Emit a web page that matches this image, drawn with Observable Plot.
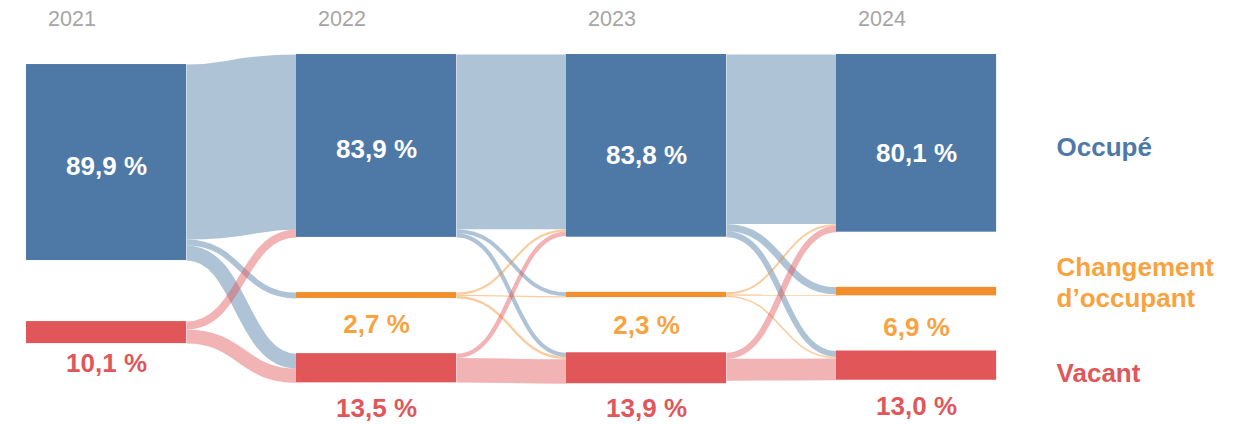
<!DOCTYPE html>
<html>
<head>
<meta charset="utf-8">
<script src="https://cdn.jsdelivr.net/npm/d3@7"></script>
<script src="https://cdn.jsdelivr.net/npm/@observablehq/plot@0.6"></script>
<style>
  body { margin: 0; background: #ffffff; }
  #chart svg { display: block; }
</style>
</head>
<body>
<div id="chart"></div>
<script>
// ---------- DATA ----------
const years = ["2021", "2022", "2023", "2024"];
const statuses = ["Occupé", "Changement", "Vacant"];
const legendLabels = ["Occupé", "Changement\nd’occupant", "Vacant"];

// share of dwellings per status and year (%)
const occupe     = [89.9, 83.9, 83.8, 80.1];
const changement = [null, 2.7, 2.3, 6.9];
const vacant     = [10.1, 13.5, 13.9, 13.0];

// flows between consecutive years: [from, to, share %]
const flows2021to2022 = [
  ["Occupé", "Occupé", 80.3], ["Occupé", "Changement", 2.7], ["Occupé", "Vacant", 6.9],
  ["Vacant", "Occupé", 3.6], ["Vacant", "Vacant", 6.5]
];
const flows2022to2023 = [
  ["Occupé", "Occupé", 80.2], ["Occupé", "Changement", 1.8], ["Occupé", "Vacant", 1.9],
  ["Changement", "Occupé", 1.0], ["Changement", "Changement", 0.6], ["Changement", "Vacant", 1.1],
  ["Vacant", "Occupé", 2.0], ["Vacant", "Vacant", 11.2]
];
const flows2023to2024 = [
  ["Occupé", "Occupé", 77.8], ["Occupé", "Changement", 3.3], ["Occupé", "Vacant", 2.7],
  ["Changement", "Occupé", 0.9], ["Changement", "Changement", 0.6], ["Changement", "Vacant", 0.7],
  ["Vacant", "Occupé", 2.8], ["Vacant", "Vacant", 10.0]
];

// ---------- STYLE / LAYOUT CONSTANTS ----------
const nodeColor  = {"Occupé": "#4e79a7", "Changement": "#f28e2b", "Vacant": "#e15759"};
const labelColor = {"Occupé": "#4e79a7", "Changement": "#f8a33f", "Vacant": "#e0575b"};
const NODE_W = 0.593;                     // node width in column units
const colOffset = [4.6, 0, 0, 0];         // top offset of each column (% units)
const colGap = [28.0, 25.3, 25.3, 25.3];  // vertical gap between nodes (% units)
const occLabelNudge = [4, 4, 10, 10];     // px, white labels
const lowLabelNudge = {"Changement": [16, 16, 18, 22], "Vacant": [10, 16, 15, 16]}; // px below bar
const legendNudge = {"Occupé": 3, "Changement": -10, "Vacant": 6};                  // px
const Y_DOMAIN = [0, 150.9];
const FONT = "Liberation Sans, Arial, Helvetica, sans-serif";

// ---------- LAYOUT ----------
const valueOf = {"Occupé": occupe, "Changement": changement, "Vacant": vacant};
const transitions = [flows2021to2022, flows2022to2023, flows2023to2024];
const fmt = v => v.toFixed(1).replace(".", ",") + "\u00a0%";

const yScale = Plot.scale({y: {domain: Y_DOMAIN, range: [54, 383]}});
const pxPerUnit = yScale.apply(1) - yScale.apply(0);
const px = p => p / pxPerUnit; // pixel nudge expressed in y units

const nodes = [];
years.forEach((yr, c) => {
  let y = colOffset[c];
  statuses.forEach(s => {
    const out = c < transitions.length ? d3.sum(transitions[c].filter(f => f[0] === s), f => f[2]) : 0;
    const inn = c > 0 ? d3.sum(transitions[c - 1].filter(f => f[1] === s), f => f[2]) : 0;
    const size = Math.max(out, inn);
    if (size > 0 && valueOf[s][c] != null) {
      nodes.push({col: c, year: yr, status: s, size, y0: y, y1: y + size, value: valueOf[s][c]});
      y += size + colGap[c];
    }
  });
});
const nodeAt = (c, s) => nodes.find(n => n.col === c && n.status === s);
const idx = s => statuses.indexOf(s);

const links = [];
transitions.forEach((flows, c) => {
  const items = flows.map(([from, to, v]) => ({col: c, from, to, v}));
  const outOff = {}, inOff = {};
  [...items].sort((a, b) => idx(a.from) - idx(b.from) || idx(a.to) - idx(b.to)).forEach(l => {
    const n = nodeAt(c, l.from);
    const o = outOff[l.from] || 0;
    l.sy = n.y0 + o + l.v / 2;
    outOff[l.from] = o + l.v;
  });
  [...items].sort((a, b) => idx(a.to) - idx(b.to) || idx(a.from) - idx(b.from)).forEach(l => {
    const n = nodeAt(c + 1, l.to);
    const o = inOff[l.to] || 0;
    l.ty = n.y0 + o + l.v / 2;
    inOff[l.to] = o + l.v;
  });
  links.push(...items);
});

const lastCol = years.length - 1;
const legendData = statuses.map((s, i) => {
  const n = nodeAt(lastCol, s);
  return {status: s, text: legendLabels[i], y: (n.y0 + n.y1) / 2 + px(legendNudge[s])};
});
const occLabels = nodes.filter(n => n.status === "Occupé");
const lowLabels = nodes.filter(n => n.status !== "Occupé");

// ---------- PLOT ----------
const chart = Plot.plot({
  width: 1255,
  height: 424,
  margin: 0,
  x: {domain: [0, 4.5], range: [26, 1241], axis: null},
  y: {domain: Y_DOMAIN, range: [54, 383], axis: null},
  style: {fontFamily: FONT, background: "#ffffff", overflow: "visible"},
  marks: [
    Plot.link(links, {
      x1: d => d.col + NODE_W, x2: d => d.col + 1,
      y1: "sy", y2: "ty",
      curve: "bump-x",
      stroke: d => nodeColor[d.from],
      strokeOpacity: 0.45,
      strokeWidth: d => d.v * pxPerUnit
    }),
    Plot.rect(nodes, {
      x1: "col", x2: d => d.col + NODE_W,
      y1: "y0", y2: "y1",
      fill: d => nodeColor[d.status]
    }),
    Plot.text(years, {
      x: (d, i) => i + 0.08, frameAnchor: "top",
      text: d => d, textAnchor: "start", lineAnchor: "top",
      dy: 10, fontSize: 21.5, fill: "#a6a6a6"
    }),
    Plot.text(occLabels, {
      x: d => d.col + NODE_W / 2,
      y: d => (d.y0 + d.y1) / 2 + px(occLabelNudge[d.col]),
      text: d => fmt(d.value),
      fontSize: 26, fontWeight: "bold", fill: "#ffffff"
    }),
    Plot.text(lowLabels, {
      x: d => d.col + NODE_W / 2,
      y: d => d.y1 + px(lowLabelNudge[d.status][d.col]),
      text: d => fmt(d.value), lineAnchor: "top",
      fontSize: 26, fontWeight: "bold", fill: d => labelColor[d.status]
    }),
    Plot.text(legendData, {
      x: lastCol + NODE_W + 0.222, y: "y",
      text: "text", textAnchor: "start", lineHeight: 1.19,
      fontSize: 26, fontWeight: "bold", fill: d => labelColor[d.status]
    })
  ]
});
document.getElementById("chart").appendChild(chart);
</script>
</body>
</html>
